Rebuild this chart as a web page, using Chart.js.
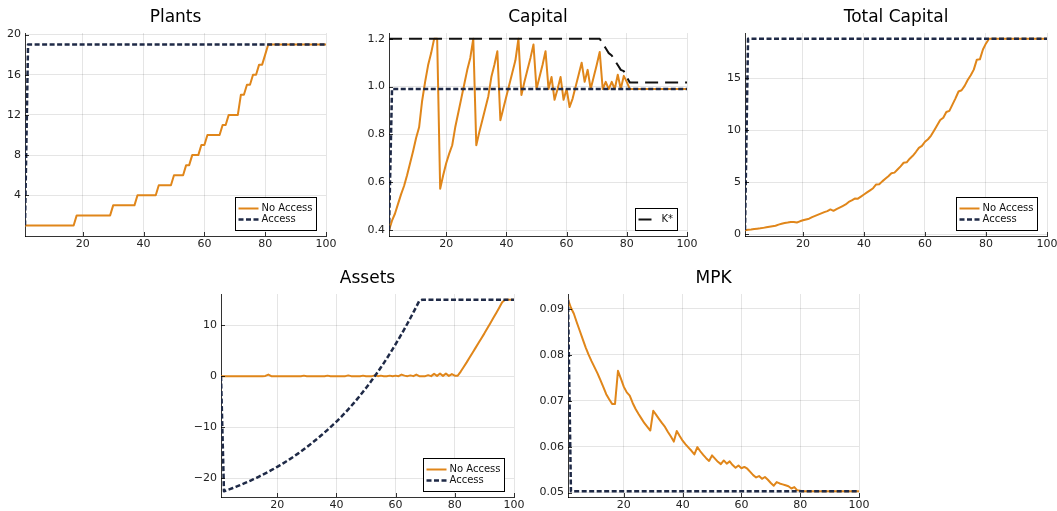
<!DOCTYPE html>
<html>
<head>
<meta charset="utf-8">
<script src="https://cdn.jsdelivr.net/npm/chart.js@4.4.1/dist/chart.umd.min.js"></script>
<style>
  html, body { margin: 0; padding: 0; background: #fff; overflow: hidden; }
  #wrap { position: relative; width: 1057px; height: 511px; overflow: hidden; }
  #wrap canvas { position: absolute; }
</style>
</head>
<body>
<div id="wrap">
  <canvas id="plants"></canvas>
  <canvas id="capital"></canvas>
  <canvas id="total"></canvas>
  <canvas id="assets"></canvas>
  <canvas id="mpk"></canvas>
</div>
<script>
// ---- run-length helper for flat stretches of the simulated paths ----
const rep = (v, n) => Array(n).fill(v);

// periods 1..100
const periods = Array.from({ length: 100 }, (_, i) => i + 1);
const xTicks = [20, 40, 60, 80, 100];

// ---- Plants ----
const plantsNoAccess = [
  ...rep(1, 17), ...rep(2, 12), ...rep(3, 8), ...rep(4, 7), ...rep(5, 5),
  ...rep(6, 4), ...rep(7, 2), ...rep(8, 3), ...rep(9, 2), ...rep(10, 5),
  ...rep(11, 2), ...rep(12, 4), ...rep(14, 2), ...rep(15, 2), ...rep(16, 2),
  ...rep(17, 2), 18, ...rep(19, 20)
];
const plantsAccess = [1, ...rep(19, 99)];
const plantsTicks = [4, 8, 12, 16, 20];

// ---- Capital per plant ----
const capitalNoAccess = [
  0.40, 0.44, 0.47, 0.51, 0.55, 0.585, 0.63, 0.68, 0.73, 0.785,
  0.83, 0.94, 1.02, 1.09, 1.14, 1.20, 1.20, 0.573, 0.63, 0.68,
  0.72, 0.755, 0.83, 0.89, 0.95, 1.01, 1.07, 1.12, 1.20, 0.755,
  0.81, 0.86, 0.91, 0.96, 1.04, 1.09, 1.148, 0.86, 0.91, 0.96,
  1.01, 1.06, 1.11, 1.20, 0.965, 1.02, 1.07, 1.12, 1.176, 0.99,
  1.04, 1.09, 1.148, 0.99, 1.04, 0.945, 0.99, 1.04, 0.945, 0.99,
  0.915, 0.95, 1.00, 1.05, 1.10, 1.02, 1.07, 0.99, 1.04, 1.09,
  1.145, 0.99, 1.02, 0.99, 1.02, 0.99, 1.05, 0.99, 1.045, 1.02,
  ...rep(0.99, 20)
];
const capitalAccess = [0.40, ...rep(0.99, 99)];
const capitalTarget = [
  ...rep(1.2, 71),
  1.18, 1.16, 1.14, 1.13, 1.11, 1.09, 1.07, 1.065, 1.04,
  1.017, ...rep(1.017, 19)
];
const capitalTicks = [0.4, 0.6, 0.8, 1.0, 1.2];

// ---- Total capital ----
const totalNoAccess = [
  0.40, 0.44, 0.47, 0.51, 0.55, 0.585, 0.63, 0.68, 0.73, 0.785,
  0.83, 0.94, 1.02, 1.09, 1.14, 1.20, 1.20, 1.146, 1.26, 1.36,
  1.44, 1.51, 1.66, 1.78, 1.90, 2.02, 2.14, 2.24, 2.40, 2.265,
  2.43, 2.58, 2.73, 2.88, 3.12, 3.27, 3.444, 3.44, 3.64, 3.84,
  4.04, 4.24, 4.44, 4.80, 4.825, 5.10, 5.35, 5.60, 5.88, 5.94,
  6.24, 6.54, 6.888, 6.93, 7.28, 7.56, 7.92, 8.32, 8.505, 8.91,
  9.15, 9.50, 10.0, 10.5, 11.0, 11.22, 11.77, 11.88, 12.48, 13.08,
  13.74, 13.86, 14.28, 14.85, 15.30, 15.84, 16.80, 16.83, 17.77, 18.36,
  ...rep(18.81, 20)
];
const totalAccess = [0.40, ...rep(18.81, 99)];
const totalTicks = [0, 5, 10, 15];

// ---- Assets ----
const assetsNoAccess = [
  0, 0, 0, 0, 0, 0, 0, 0, 0, 0,
  0, 0, 0, 0, 0, 0.05, 0.3, 0, 0, 0,
  0, 0, 0, 0, 0, 0, 0, 0, 0.1, 0,
  0, 0, 0, 0, 0, 0, 0.1, 0, 0, 0,
  0, 0, 0, 0.15, 0, 0, 0, 0, 0.1, 0,
  0, 0, 0.15, 0, 0.1, 0, 0, 0.1, 0, 0.1,
  0, 0.3, 0.1, 0, 0.15, 0, 0.3, 0, 0, 0,
  0.2, 0, 0.45, 0.05, 0.5, 0.05, 0.5, 0.05, 0.4, 0.1,
  0.1, 0.9, 1.8, 2.7, 3.65, 4.6, 5.55, 6.5, 7.45, 8.4,
  9.4, 10.4, 11.4, 12.4, 13.45, 14.5, 15, 15, 15, 15
];
const assetsAccess = [
  0, -22.6, -22.4, -22.19, -21.97, -21.74, -21.51, -21.27, -21.02, -20.77,
  -20.5, -20.23, -19.96, -19.67, -19.38, -19.08, -18.78, -18.46, -18.14, -17.81,
  -17.47, -17.12, -16.76, -16.39, -16.01, -15.62, -15.21, -14.79, -14.36, -13.92,
  -13.47, -13.01, -12.54, -12.06, -11.57, -11.06, -10.54, -10.01, -9.47, -8.92,
  -8.35, -7.76, -7.15, -6.52, -5.87, -5.2, -4.51, -3.8, -3.07, -2.32,
  -1.56, -0.78, 0.02, 0.84, 1.69, 2.56, 3.45, 4.37, 5.31, 6.27,
  7.25, 8.26, 9.29, 10.34, 11.42, 12.52, 13.64, 14.79, 15, 15,
  ...rep(15, 30)
];
const assetsTicks = [-20, -10, 0, 10];

// ---- Marginal product of capital ----
const mpkNoAccess = [
  0.0920, 0.0902, 0.0889, 0.0870, 0.0852, 0.0834, 0.0816, 0.0800, 0.0786, 0.0773,
  0.0760, 0.0745, 0.0730, 0.0714, 0.0703, 0.0693, 0.0693, 0.0765, 0.0748, 0.0730,
  0.0718, 0.0711, 0.0695, 0.0682, 0.0671, 0.0661, 0.0651, 0.0643, 0.0635, 0.0678,
  0.0669, 0.0660, 0.0651, 0.0643, 0.0632, 0.0622, 0.0611, 0.0634, 0.0623, 0.0613,
  0.0605, 0.0598, 0.0591, 0.0583, 0.0599, 0.0590, 0.0582, 0.0575, 0.0569, 0.0581,
  0.0574, 0.0567, 0.0562, 0.0570, 0.0563, 0.0568, 0.0560, 0.0554, 0.0559, 0.0553,
  0.0556, 0.0552, 0.0545, 0.0538, 0.0533, 0.0536, 0.0530, 0.0534, 0.0528, 0.0521,
  0.0515, 0.0523, 0.0520, 0.0518, 0.0516, 0.0514, 0.0509, 0.0512, 0.0505, 0.0504,
  ...rep(0.0503, 20)
];
const mpkAccess = [0.0920, ...rep(0.0503, 99)];
const mpkTicks = [0.05, 0.06, 0.07, 0.08, 0.09];

// ---- styling ----
const ORANGE = '#e0861a';
const NAVY = '#1f2a47';
const BLACK = '#111111';
const GRID = 'rgba(0,0,0,0.10)';
const AXIS = 'rgba(0,0,0,0.80)';
const TICK_TEXT = '#222222';
const FONT = '"DejaVu Sans", "Noto Sans", sans-serif';
const Y_AXIS_W = 40, TOP_PAD = 33, RIGHT_PAD = 20;

const points = arr => arr.map((v, i) => ({ x: periods[i], y: v }));

function noAccess(values, inLegend = true) {
  return { label: 'No Access', data: points(values), borderColor: ORANGE, borderWidth: 2,
           order: 2, inLegend };
}
function access(values, inLegend = true) {
  return { label: 'Access', data: points(values), borderColor: NAVY, borderWidth: 2.5,
           borderDash: [5, 2.5], order: 1, inLegend };
}

// titles, inward tick marks and the boxed legend in the lower right of each panel
const panelDecor = {
  id: 'panelDecor',
  afterDatasetsDraw(chart) {
    const { ctx, chartArea: a, scales: { x, y } } = chart;
    ctx.save();
    ctx.strokeStyle = AXIS;
    ctx.lineWidth = 1;
    ctx.beginPath();
    x.ticks.forEach(t => {
      const px = Math.round(x.getPixelForValue(t.value)) + 0.5;
      ctx.moveTo(px, a.bottom);
      ctx.lineTo(px, a.bottom - 4);
    });
    y.ticks.forEach(t => {
      const py = Math.round(y.getPixelForValue(t.value)) + 0.5;
      ctx.moveTo(a.left, py);
      ctx.lineTo(a.left + 4, py);
    });
    ctx.stroke();
    ctx.restore();
  },
  afterDraw(chart, args, opts) {
    const { ctx, chartArea: a } = chart;
    ctx.save();
    ctx.fillStyle = '#000';
    ctx.font = '17px ' + FONT;
    ctx.textAlign = 'center';
    ctx.textBaseline = 'alphabetic';
    ctx.fillText(opts.title, (a.left + a.right) / 2, a.top - 11);

    const items = chart.data.datasets.filter(ds => ds.inLegend);
    if (items.length) {
      ctx.font = '10px ' + FONT;
      const tw = Math.max(...items.map(ds => ctx.measureText(ds.label).width));
      const w = Math.round(3 + 20 + 3 + tw + 4);
      const h = 11 * items.length + 11;
      const x0 = Math.round(a.right - 10 - w) + 0.5;
      const y0 = Math.round(a.bottom - 6 - h) + 0.5;
      ctx.fillStyle = '#fff';
      ctx.fillRect(x0, y0, w, h);
      ctx.strokeStyle = '#000';
      ctx.lineWidth = 1;
      ctx.strokeRect(x0, y0, w, h);
      items.forEach((ds, i) => {
        const cy = y0 + 11 + 11 * i;
        ctx.save();
        ctx.strokeStyle = ds.borderColor;
        ctx.lineWidth = ds.borderWidth;
        ctx.setLineDash(ds.borderDash || []);
        ctx.beginPath();
        ctx.moveTo(x0 + 3, cy);
        ctx.lineTo(x0 + 23, cy);
        ctx.stroke();
        ctx.restore();
        ctx.fillStyle = '#111';
        ctx.textAlign = 'left';
        ctx.textBaseline = 'middle';
        ctx.fillText(ds.label, x0 + 26, cy);
      });
    }
    ctx.restore();
  }
};

function panel(id, geom, title, datasets, yMin, yMax, yTicks, yFormat) {
  const { L, R, T, B, xh } = geom;
  const canvas = document.getElementById(id);
  const w = R - L + Y_AXIS_W + RIGHT_PAD;
  const h = B - T + TOP_PAD + xh;
  canvas.width = w; canvas.height = h;
  canvas.style.left = (L - Y_AXIS_W) + 'px';
  canvas.style.top = (T - TOP_PAD) + 'px';
  canvas.style.width = w + 'px';
  canvas.style.height = h + 'px';
  const tickFont = { family: FONT, size: 11 };
  return new Chart(canvas, {
    type: 'line',
    data: { datasets },
    plugins: [panelDecor],
    options: {
      responsive: false,
      animation: false,
      devicePixelRatio: 1,
      layout: { padding: { top: TOP_PAD, right: RIGHT_PAD, left: 0, bottom: 0 } },
      elements: { point: { radius: 0 }, line: { tension: 0, borderJoinStyle: 'round' } },
      plugins: {
        legend: { display: false },
        tooltip: { enabled: false },
        panelDecor: { title }
      },
      scales: {
        x: {
          type: 'linear', min: 1, max: 100,
          afterFit: s => { s.height = xh; },
          afterBuildTicks: s => { s.ticks = xTicks.map(v => ({ value: v })); },
          grid: { color: GRID, lineWidth: 1, drawTicks: false },
          border: { display: true, color: AXIS, width: 1 },
          ticks: { padding: 2, font: tickFont, color: TICK_TEXT, maxRotation: 0, autoSkip: false }
        },
        y: {
          type: 'linear', min: yMin, max: yMax,
          afterFit: s => { s.width = Y_AXIS_W; },
          afterBuildTicks: s => { s.ticks = yTicks.map(v => ({ value: v })); },
          grid: { color: GRID, lineWidth: 1, drawTicks: false },
          border: { display: true, color: AXIS, width: 1 },
          ticks: { padding: 4, font: tickFont, color: TICK_TEXT, autoSkip: false, callback: yFormat }
        }
      }
    }
  });
}

const minus = v => String(v).replace('-', '\u2212');

panel('plants', { L: 25, R: 326, T: 33, B: 236, xh: 22 }, 'Plants',
  [noAccess(plantsNoAccess), access(plantsAccess)],
  -0.05, 20.15, plantsTicks, v => String(v));

panel('capital', { L: 389, R: 687, T: 33, B: 236, xh: 22 }, 'Capital',
  [noAccess(capitalNoAccess, false), access(capitalAccess, false),
   { label: 'K*', data: points(capitalTarget), borderColor: BLACK, borderWidth: 2,
     borderDash: [13, 7], order: 0, inLegend: true }],
  0.376, 1.224, capitalTicks, v => v.toFixed(1));

panel('total', { L: 745, R: 1047, T: 33, B: 236, xh: 22 }, 'Total Capital',
  [noAccess(totalNoAccess), access(totalAccess)],
  -0.152, 19.362, totalTicks, v => String(v));

panel('assets', { L: 221, R: 514, T: 294, B: 497, xh: 14 }, 'Assets',
  [noAccess(assetsNoAccess), access(assetsAccess)],
  -23.73, 16.13, assetsTicks, minus);

panel('mpk', { L: 568, R: 859, T: 294, B: 497, xh: 14 }, 'MPK',
  [noAccess(mpkNoAccess, false), access(mpkAccess, false)],
  0.04905, 0.0932, mpkTicks, v => v.toFixed(2));
</script>
</body>
</html>
